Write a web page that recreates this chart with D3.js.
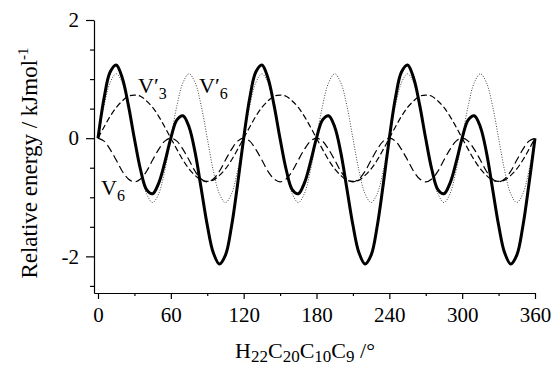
<!DOCTYPE html>
<html>
<head>
<meta charset="utf-8">
<script src="https://cdn.jsdelivr.net/npm/d3@7"></script>
<style>
  body { margin: 0; background: #fff; }
  svg, svg text { font-family: "Liberation Serif", "Times New Roman", serif; }
  .eje path, .eje line { stroke: #000; stroke-width: 1.2; }
  .eje text { font-size: 21px; fill: #000; font-family: "Liberation Serif", "Times New Roman", serif; }
</style>
</head>
<body>
<svg id="graph"></svg>
<script>
// torsion angle (deg)
var angulos = [0,5,10,15,20,25,30,35,40,45,50,55,60,65,70,75,80,85,90,95,100,105,110,115,
  120,125,130,135,140,145,150,155,160,165,170,175,180,185,190,195,200,205,210,215,220,225,230,235,
  240,245,250,255,260,265,270,275,280,285,290,295,300,305,310,315,320,325,330,335,340,345,350,355,360];

// total energy (thick solid)
var total = [0,0.68,1.12,1.24,1.02,0.56,-0.01,-0.53,-0.87,-0.94,-0.76,-0.41,0,0.31,0.38,0.19,-0.24,-0.85,-1.47,-1.94,-2.13,-1.98,-1.49,-0.78,
  0,0.68,1.12,1.24,1.02,0.56,-0.01,-0.53,-0.87,-0.94,-0.76,-0.41,0,0.31,0.38,0.19,-0.24,-0.85,-1.47,-1.94,-2.13,-1.98,-1.49,-0.78,
  0,0.68,1.12,1.24,1.02,0.56,-0.01,-0.53,-0.87,-0.94,-0.76,-0.41,0,0.31,0.38,0.19,-0.24,-0.85,-1.47,-1.94,-2.13,-1.98,-1.49,-0.78,0];

// V'6 (dotted)
var v6prima = [0,0.55,0.94,1.09,0.94,0.55,0,-0.55,-0.94,-1.09,-0.94,-0.55,
  0,0.55,0.94,1.09,0.94,0.55,0,-0.55,-0.94,-1.09,-0.94,-0.55,
  0,0.55,0.94,1.09,0.94,0.55,0,-0.55,-0.94,-1.09,-0.94,-0.55,
  0,0.55,0.94,1.09,0.94,0.55,0,-0.55,-0.94,-1.09,-0.94,-0.55,
  0,0.55,0.94,1.09,0.94,0.55,0,-0.55,-0.94,-1.09,-0.94,-0.55,
  0,0.55,0.94,1.09,0.94,0.55,0,-0.55,-0.94,-1.09,-0.94,-0.55,0];

// V'3 (short dashes)
var v3prima = [0,0.19,0.37,0.52,0.63,0.71,0.73,0.71,0.63,0.52,0.37,0.19,0,-0.19,-0.37,-0.52,-0.63,-0.71,-0.73,-0.71,-0.63,-0.52,-0.37,-0.19,
  0,0.19,0.37,0.52,0.63,0.71,0.73,0.71,0.63,0.52,0.37,0.19,0,-0.19,-0.37,-0.52,-0.63,-0.71,-0.73,-0.71,-0.63,-0.52,-0.37,-0.19,
  0,0.19,0.37,0.52,0.63,0.71,0.73,0.71,0.63,0.52,0.37,0.19,0,-0.19,-0.37,-0.52,-0.63,-0.71,-0.73,-0.71,-0.63,-0.52,-0.37,-0.19,0];

// V6 (long dashes)
var v6 = [0,-0.05,-0.19,-0.37,-0.56,-0.69,-0.74,-0.69,-0.56,-0.37,-0.19,-0.05,
  0,-0.05,-0.19,-0.37,-0.56,-0.69,-0.74,-0.69,-0.56,-0.37,-0.19,-0.05,
  0,-0.05,-0.19,-0.37,-0.56,-0.69,-0.74,-0.69,-0.56,-0.37,-0.19,-0.05,
  0,-0.05,-0.19,-0.37,-0.56,-0.69,-0.74,-0.69,-0.56,-0.37,-0.19,-0.05,
  0,-0.05,-0.19,-0.37,-0.56,-0.69,-0.74,-0.69,-0.56,-0.37,-0.19,-0.05,
  0,-0.05,-0.19,-0.37,-0.56,-0.69,-0.74,-0.69,-0.56,-0.37,-0.19,-0.05,0];

var ticksX = [0,60,120,180,240,300,360];
var ticksXmenor = [30,90,150,210,270,330];
var ticksY = [-2,0,2];
var ticksYmenor = [-2.5,-1.5,-1,-0.5,0.5,1,1.5];

var config = { width: 552, height: 365, left: 94, right: 535, top: 20, bottom: 293 };

var x = d3.scaleLinear().domain([-3.3, 360]).range([config.left, config.right]);
var y = d3.scaleLinear().domain([-2.62, 2]).range([config.bottom, config.top]);

var svg = d3.select("#graph")
    .attr("width", config.width)
    .attr("height", config.height);

// axes
svg.append("g")
    .attr("class", "eje")
    .attr("transform", "translate(0," + config.bottom + ")")
    .call(d3.axisBottom(x).tickValues(ticksX).tickSize(6).tickSizeOuter(0).tickPadding(8));
svg.append("g")
    .attr("class", "eje")
    .attr("transform", "translate(0," + config.bottom + ")")
    .call(d3.axisBottom(x).tickValues(ticksXmenor).tickSize(3).tickFormat(""))
    .select(".domain").remove();
svg.append("g")
    .attr("class", "eje")
    .attr("transform", "translate(" + config.left + ",0)")
    .call(d3.axisLeft(y).tickValues(ticksY).tickSize(8).tickSizeOuter(0).tickPadding(7)
      .tickFormat(function(d) { return String(d); }));
svg.append("g")
    .attr("class", "eje")
    .attr("transform", "translate(" + config.left + ",0)")
    .call(d3.axisLeft(y).tickValues(ticksYmenor).tickSize(4).tickFormat(""))
    .select(".domain").remove();

// curves
var series = [
  { valores: v6prima, color: "#444", ancho: 1, guion: "1,1.6" },
  { valores: v3prima, color: "#000", ancho: 1.2, guion: "6,3" },
  { valores: v6, color: "#000", ancho: 1.2, guion: "8,4" },
  { valores: total, color: "#000", ancho: 3, guion: null }
];
var linea = d3.line()
    .x(function(d) { return x(d[0]); })
    .y(function(d) { return y(d[1]); })
    .curve(d3.curveCatmullRom);

svg.selectAll("path.curva")
    .data(series)
    .enter().append("path")
    .attr("class", "curva")
    .attr("fill", "none")
    .attr("stroke", function(d) { return d.color; })
    .attr("stroke-width", function(d) { return d.ancho; })
    .attr("stroke-dasharray", function(d) { return d.guion; })
    .attr("stroke-linejoin", "round")
    .attr("d", function(d) { return linea(angulos.map(function(a, i) { return [a, d.valores[i]]; })); });

// curve labels
function etiqueta(px, py, prima, sub) {
  var t = svg.append("text").attr("x", px).attr("y", py).style("font-size", "22px");
  t.append("tspan").text("V" + (prima ? "\u2032" : ""));
  t.append("tspan").attr("dy", 6).style("font-size", "16px").text(sub);
}
etiqueta(138, 93, true, "3");
etiqueta(199, 93, true, "6");
etiqueta(101, 195, false, "6");

// axis titles
var ty = svg.append("text")
    .attr("transform", "translate(37,163) rotate(-90)")
    .attr("text-anchor", "middle")
    .style("font-size", "23px");
ty.append("tspan").text("Relative energy / kJmol");
ty.append("tspan").attr("dy", -9).style("font-size", "15px").text("-1");

var tx = svg.append("text")
    .attr("x", 305).attr("y", 358)
    .attr("text-anchor", "middle")
    .style("font-size", "22px");
tx.append("tspan").text("H");
tx.append("tspan").attr("dy", 4).style("font-size", "17px").text("22");
tx.append("tspan").attr("dy", -4).text("C");
tx.append("tspan").attr("dy", 4).style("font-size", "17px").text("20");
tx.append("tspan").attr("dy", -4).text("C");
tx.append("tspan").attr("dy", 4).style("font-size", "17px").text("10");
tx.append("tspan").attr("dy", -4).text("C");
tx.append("tspan").attr("dy", 4).style("font-size", "17px").text("9");
tx.append("tspan").attr("dy", -4).text(" /\u00b0");
</script>
</body>
</html>
